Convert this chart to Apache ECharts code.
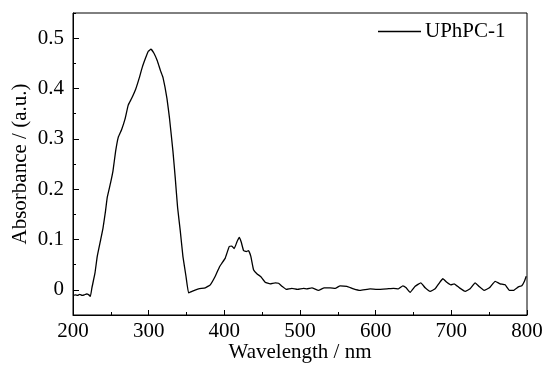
<!DOCTYPE html>
<html>
<head>
<meta charset="utf-8">
<script src="https://cdn.jsdelivr.net/npm/echarts@6/dist/echarts.min.js"></script>
<style>
html,body{margin:0;padding:0;background:#fff;}
#chart{width:547px;height:367px;}
</style>
</head>
<body>
<div id="chart"></div>
<script>
const seriesName = 'UPhPC-1';
const xTitle = 'Wavelength / nm';
const yTitle = 'Absorbance / (a.u.)';
const yMajorTicks = [0, 0.1, 0.2, 0.3, 0.4, 0.5];
const yMinorTicks = [-0.05, 0.05, 0.15, 0.25, 0.35, 0.45, 0.55];
const wavelength = [200,203,206,209,212,215,218,221,223,225,229,232,236.5,239.6,243,245.3,249.7,252.8,256.3,259.8,264.2,268.7,273,277.4,282.7,287.2,291.5,296,299.5,303,307,311.4,315.7,318.9,324.2,327.6,332.1,335.1,338.2,341.7,345.3,349.3,352.7,357.2,366,374.8,381.4,388,393.7,396.8,401.2,406.5,410,413.1,416.6,419.7,422.3,425.4,428.9,432,435.1,438.6,443,448.3,454,460.6,467.2,471.6,476.1,481.8,489.3,496.7,504.6,509,515.7,524.4,532,540,546.5,553,562,570.7,579.5,592.7,601.6,614.8,623.5,630,635.9,640.3,645.6,652.2,659.7,665.4,672,678.6,684.3,688.8,694,699.3,703.7,710.7,718.2,724.8,731.4,737.1,743.3,750.3,757.9,764.5,771.1,776.8,782,788.7,793.1,796.6,799];
const absorbance = [-0.011,-0.010,-0.011,-0.009,-0.011,-0.010,-0.008,-0.010,-0.013,0.004,0.033,0.066,0.099,0.122,0.157,0.184,0.213,0.236,0.275,0.303,0.318,0.339,0.367,0.380,0.398,0.419,0.442,0.461,0.474,0.478,0.470,0.455,0.435,0.422,0.380,0.340,0.275,0.223,0.164,0.118,0.066,0.027,-0.006,-0.003,0.002,0.004,0.010,0.027,0.046,0.053,0.063,0.086,0.087,0.082,0.095,0.104,0.095,0.078,0.076,0.078,0.066,0.040,0.032,0.026,0.015,0.012,0.014,0.013,0.007,0.001,0.003,0.001,0.003,0.002,0.004,-0.001,0.004,0.004,0.003,0.008,0.007,0.002,-0.001,0.002,0.001,0.002,0.003,0.002,0.008,0.004,-0.005,0.007,0.014,0.004,-0.003,0.002,0.014,0.022,0.015,0.010,0.012,0.004,-0.003,0.002,0.014,0.006,-0.001,0.004,0.017,0.012,0.010,-0.001,-0.001,0.006,0.008,0.017,0.027];

const data = wavelength.map((w, i) => [w, absorbance[i]]);
const font = 'Liberation Serif, Times New Roman, serif';
const chart = echarts.init(document.getElementById('chart'), null, {renderer: 'canvas'});
chart.setOption({
  animation: false,
  backgroundColor: '#fff',
  grid: {left: 73, top: 13, right: 20, bottom: 52, show: true, borderColor: '#000', borderWidth: 1, backgroundColor: 'transparent', containLabel: false, outerBoundsMode: 'none'},
  legend: {
    left: 373, top: 16, icon: 'rect', itemWidth: 43, itemHeight: 1.3, itemGap: 4,
    textStyle: {fontFamily: font, fontSize: 21, color: '#000', padding: [0,0,0,-1]},
    data: [{name: seriesName, itemStyle: {color: '#000'}}]
  },
  xAxis: {
    type: 'value', min: 200, max: 800, interval: 100,
    name: xTitle, nameLocation: 'middle', nameGap: 27, nameMoveOverlap: false,
    nameTextStyle: {fontFamily: font, fontSize: 21, color: '#000'},
    axisLine: {show: true, onZero: false, lineStyle: {color: '#000', width: 1}},
    axisTick: {show: true, inside: true, length: 5, lineStyle: {color: '#000'}},
    minorTick: {show: true, splitNumber: 2, length: 3, lineStyle: {color: '#000'}},
    axisLabel: {fontFamily: font, fontSize: 21, color: '#000', margin: 6},
    splitLine: {show: false}
  },
  yAxis: [{
    type: 'value', min: -0.05, max: 0.55,
    name: yTitle, nameLocation: 'middle', nameGap: 42, nameRotate: 90, nameMoveOverlap: false,
    nameTextStyle: {fontFamily: font, fontSize: 21, color: '#000'},
    axisLine: {show: true, onZero: false, lineStyle: {color: '#000', width: 1}},
    axisTick: {show: true, inside: true, length: 6, customValues: yMajorTicks, lineStyle: {color: '#000'}},
    axisLabel: {fontFamily: font, fontSize: 21, color: '#000', margin: 9, customValues: yMajorTicks, formatter: v => String(Math.round(v*10)/10)},
    splitLine: {show: false}
  }, {
    type: 'value', min: -0.05, max: 0.55, position: 'left',
    axisLine: {show: false},
    axisTick: {show: true, inside: true, length: 3, customValues: yMinorTicks, lineStyle: {color: '#000'}},
    axisLabel: {show: false},
    splitLine: {show: false}
  }],
  series: [{
    name: seriesName, type: 'line', data: data, yAxisIndex: 0,
    symbol: 'none', smooth: 0.1,
    lineStyle: {color: '#000', width: 1.3},
    itemStyle: {color: '#000'}
  }]
});
</script>
</body>
</html>
